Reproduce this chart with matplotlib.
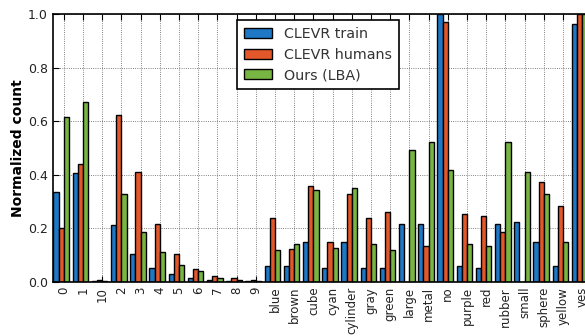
import matplotlib
matplotlib.use("Agg")
import matplotlib.pyplot as plt
import numpy as np

categories = ['0', '1', '10', '2', '3', '4', '5', '6', '7', '8', '9',
              'blue', 'brown', 'cube', 'cyan', 'cylinder', 'gray', 'green',
              'large', 'metal', 'no', 'purple', 'red', 'rubber', 'small',
              'sphere', 'yellow', 'yes']

clevr_train = [0.336, 0.405, 0.002, 0.211, 0.106, 0.054, 0.031, 0.015, 0.006, 0.002, 0.004,
               0.061, 0.060, 0.150, 0.054, 0.150, 0.054, 0.054, 0.218, 0.218, 1.000,
               0.060, 0.054, 0.218, 0.225, 0.150, 0.060, 0.963]
clevr_humans = [0.200, 0.442, 0.007, 0.622, 0.412, 0.217, 0.106, 0.047, 0.024, 0.016, 0.006,
                0.240, 0.122, 0.357, 0.150, 0.329, 0.240, 0.263, 0.000, 0.134, 0.969,
                0.254, 0.247, 0.186, 0.000, 0.375, 0.284, 1.000]
ours_lba = [0.614, 0.672, 0.003, 0.329, 0.187, 0.113, 0.062, 0.040, 0.016, 0.006, 0.004,
            0.121, 0.143, 0.342, 0.128, 0.351, 0.143, 0.119, 0.494, 0.522, 0.417,
            0.143, 0.134, 0.522, 0.411, 0.329, 0.150, 1.000]

series_names = ['CLEVR train', 'CLEVR humans', 'Ours (LBA)']
colors = ['#1f78c6', '#e2582a', '#79b543']

W, H = 585, 336
fig = plt.figure(figsize=(W / 100, H / 100), dpi=100)
ax = fig.add_axes([53.3 / W, (H - 282) / H, 539.5 / W, 268 / H])

x = np.arange(len(categories))
w = 0.27
offsets = [-1.5 * w, -0.5 * w, 0.5 * w]
for vals, off, c, name in zip([clevr_train, clevr_humans, ours_lba], offsets, colors, series_names):
    ax.bar(x + off, vals, width=w, color=c, edgecolor='black', linewidth=1.0, label=name, zorder=2)

ax.set_xlim(-0.55, 27.55)
ax.set_ylim(0, 1.0)
ax.set_xticks(x)
ax.set_xticklabels(categories, rotation=90, fontsize=8.5, color='#222222')
ax.set_yticks(np.arange(0, 1.01, 0.2))
ax.set_yticklabels(['%.1f' % v for v in np.arange(0, 1.01, 0.2)], fontsize=9, color='#222222')
ax.tick_params(direction='in', top=True, right=True, length=4, width=0.8)
ax.tick_params(axis='x', pad=3.5)
ax.tick_params(axis='y', pad=4)
ax.set_axisbelow(True)
ax.grid(True, linestyle=':', color='0.35', linewidth=0.6)
for s in ax.spines.values():
    s.set_linewidth(1.2)

ax.set_ylabel('Normalized count', fontsize=10, fontweight='bold')
ax.yaxis.set_label_coords(-0.053, 0.5)

leg = ax.legend(loc='upper left', bbox_to_anchor=(236.7 / W, 1 - 20 / H), bbox_transform=fig.transFigure,
                fontsize=10.3, fancybox=False, framealpha=1, edgecolor='black',
                borderpad=0.5, labelspacing=0.45, handlelength=2.0, handleheight=0.7,
                handletextpad=0.8, borderaxespad=0)
leg.get_frame().set_linewidth(1.2)
for t in leg.get_texts():
    t.set_color('#333333')

fig.savefig('out.png', dpi=100)
